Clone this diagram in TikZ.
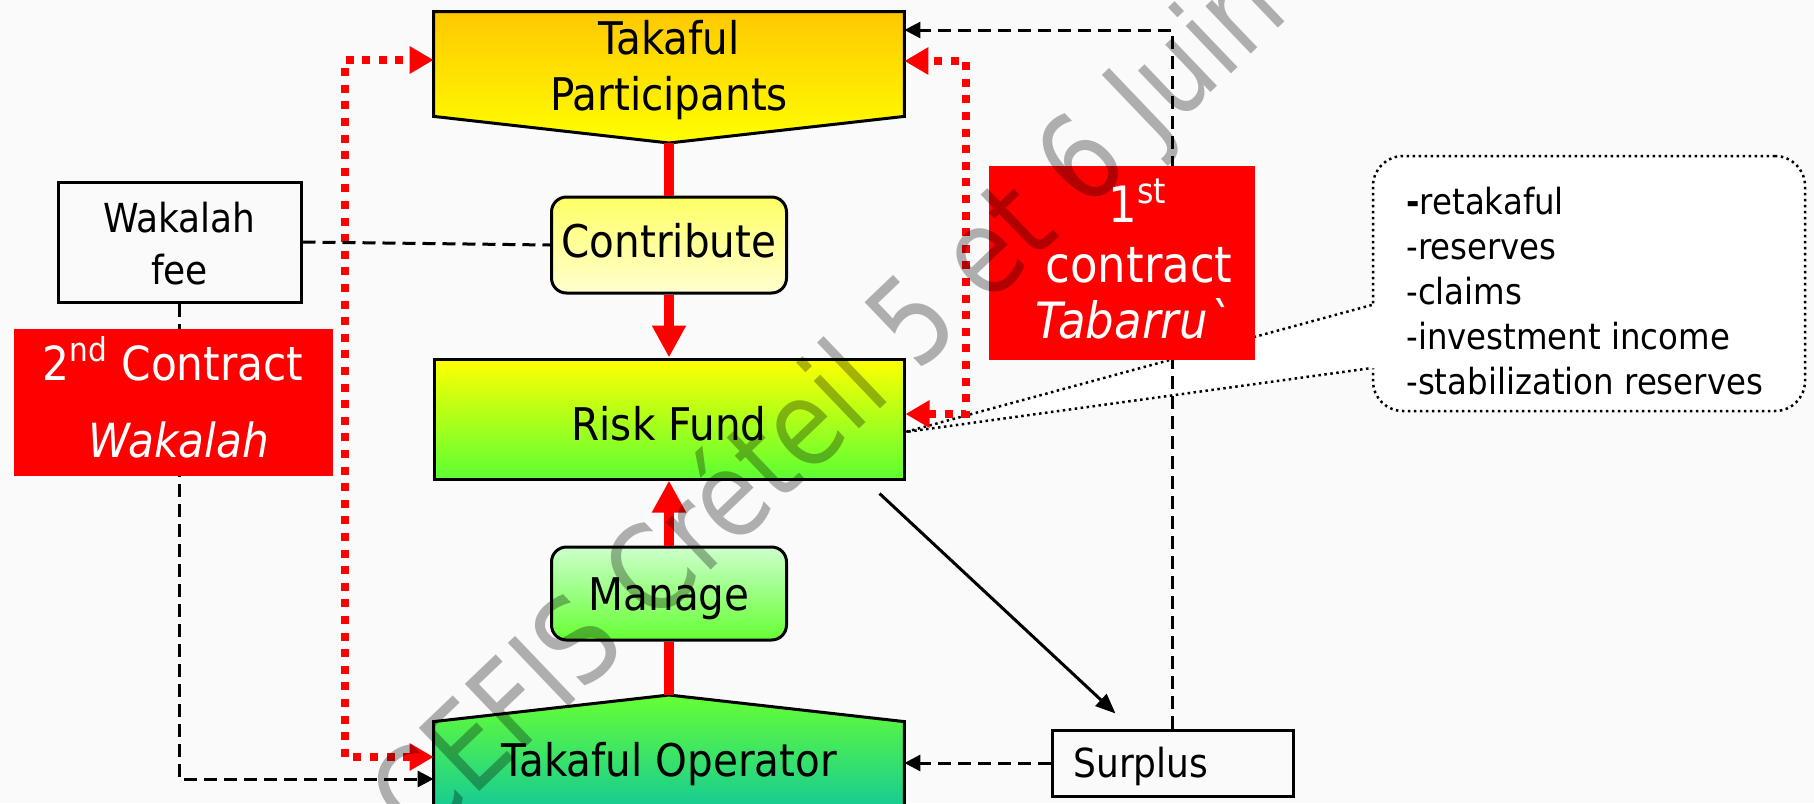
\documentclass[tikz,border=0pt]{standalone}
\usepackage{fontspec}
\setmainfont{DejaVu Sans}[FakeStretch=0.9]
\newfontfamily\wmfont{DejaVu Sans}[FakeStretch=0.85]
\usetikzlibrary{arrows.meta,calc}
\definecolor{bgc}{HTML}{FAFAFA}
\definecolor{tpTop}{HTML}{FFC800}
\definecolor{tpBot}{HTML}{FFFF00}
\definecolor{ctTop}{HTML}{FFFF66}
\definecolor{ctBot}{HTML}{FFFFD0}
\definecolor{rfTop}{HTML}{FFFF00}
\definecolor{rfBot}{HTML}{5CFF33}
\definecolor{mgTop}{HTML}{CCFFCC}
\definecolor{mgBot}{HTML}{66FF33}
\definecolor{toTop}{HTML}{66FF33}
\definecolor{toBot}{HTML}{10C89A}
\definecolor{redc}{HTML}{FF0000}
\newcommand\fsMain{\fontsize{22.5pt}{28pt}\selectfont}
\newcommand\fsFee{\fontsize{20pt}{26pt}\selectfont}
\newcommand\fsCall{\fontsize{18pt}{22.5pt}\selectfont}
\newcommand\fsTwo{\fontsize{23.5pt}{28pt}\selectfont}
\newcommand\fsOne{\fontsize{25pt}{29pt}\selectfont}
\begin{document}
\begin{tikzpicture}[x=0.5pt,y=-0.5pt,
  box/.style={draw=black, line width=1.5pt, inner sep=0pt},
  pill/.style={box, rounded corners=7.5pt},
  redbox/.style={fill=redc, inner sep=0pt},
  redline/.style={draw=redc, line width=5pt},
  redarr/.style={redline, -{Triangle[length=16pt,width=16pt]}},
  reddots/.style={draw=redc, line width=4pt, dash pattern=on 4pt off 4.3pt,
     {Triangle[length=12pt,width=13pt]}-{Triangle[length=12pt,width=13pt]}},
  blkdash/.style={draw=black, line width=1.5pt, dash pattern=on 6.5pt off 3.5pt},
  blkarr/.style={blkdash, -{Triangle[length=8pt,width=8pt]}},
  dotline/.style={draw=black, line width=1.25pt, dash pattern=on 1.25pt off 1.75pt},
  txt/.style={inner sep=0pt},
]
\useasboundingbox (0,0) rectangle (1814,803);
\clip (0,0) rectangle (1814,803);
\fill[bgc] (0,0) rectangle (1814,803);

% Takaful Participants
\node[txt, minimum width=235pt, minimum height=52pt] (tp) at (669,64) {};
\coordinate (tptip) at (669,143);
\shadedraw[top color=tpTop, bottom color=tpBot, draw=black, line width=1.5pt]
  (tp.north west) -- (tp.north east) -- (tp.south east) -- (tptip) -- (tp.south west) -- cycle;
\node[txt, anchor=north, align=center, font=\fsMain] (tptext) at (669,19.8) {Takaful\\Participants};

% Takaful Operator
\node[txt, minimum width=235pt, minimum height=40.5pt] (to) at (669,762.5) {};
\coordinate (totip) at (669,695);
\shadedraw[top color=toTop, bottom color=toBot, draw=black, line width=1.5pt]
  ([yshift=-6pt]to.south west) -- (to.north west) -- (totip) -- (to.north east) -- ([yshift=-6pt]to.south east) -- cycle;

% other boxes
\node[pill, top color=ctTop, bottom color=ctBot, minimum width=117.5pt, minimum height=48pt] (contrib) at (669,245) {};
\node[box, top color=rfTop, bottom color=rfBot, minimum width=235pt, minimum height=60pt] (rf) at (669,419) {};
\node[pill, top color=mgTop, bottom color=mgBot, minimum width=117.5pt, minimum height=46.5pt] (manage) at (669,593.5) {};
\node[box, fill=bgc, minimum width=121.5pt, minimum height=60pt] (fee) at (179.5,242) {};
\node[box, fill=bgc, minimum width=120.5pt, minimum height=33pt] (surplus) at (1172.5,763) {};

% callout
\node[dotline, fill=white, rounded corners=15pt, minimum width=216pt, minimum height=127.5pt, inner sep=0pt] (callout) at (1589,283.5) {};
\coordinate (wtip) at ([yshift=-6.5pt]rf.east);
\coordinate (wa) at ([yshift=-10.75pt]callout.west);
\coordinate (wb) at ([yshift=-42.25pt]callout.west);
\fill[white] ([xshift=2pt]wa) -- (wtip) -- ([xshift=2pt]wb) -- cycle;
\draw[dotline] (wa) -- (wtip) -- (wb);

% red flow
\draw[redline] (tptip) -- (contrib.north);
\draw[redarr] (contrib.south) -- (rf.north);
\draw[redarr] (manage.north) -- (rf.south);
\draw[redline] (totip) -- (manage.south);

% red dotted loops
\coordinate (lx) at (345,0);
\coordinate (rx) at (966,0);
\coordinate (tpL) at ([yshift=2pt]tp.west);
\coordinate (toL) at ([yshift=2.75pt]to.west);
\coordinate (tpR) at ([yshift=1.5pt]tp.east);
\coordinate (rfR) at ([yshift=2.5pt]rf.east);
\draw[reddots] (toL) -- (toL -| lx) -- (tpL -| lx) -- (tpL);
\draw[reddots] (rfR) -- (rfR -| rx) -- (tpR -| rx) -- (tpR);

% black dashed
\draw[blkdash] (fee.east) -- (contrib.west);
\coordinate (tpR2) at ([yshift=17pt]tp.east);
\draw[blkarr] (surplus.north) -- (surplus.north |- tpR2) -- (tpR2);
\coordinate (toL2) at ([yshift=-8.25pt]to.west);
\draw[blkarr] (fee.south) -- (fee.south |- toL2) -- (toL2);
\draw[blkarr] (surplus.west) -- (surplus.west -| to.east);
\draw[line width=1.5pt, -{Triangle[length=10pt,width=8pt]}]
  ([xshift=-13pt,yshift=-6.5pt]rf.south east) -- ([xshift=32.5pt,yshift=7.5pt]surplus.north west);

% texts
\node[txt, anchor=base, font=\fsMain] (ctt) at (669,257) {Contribute};
\node[txt, anchor=base, font=\fsMain] (rft) at (669,440) {Risk Fund};
\node[txt, anchor=base, font=\fsMain] (mgt) at (669,610) {Manage};
\node[txt, anchor=base, font=\fsMain] (tot) at (669,776) {Takaful Operator};
\node[txt, anchor=north, align=center, font=\fsFee] (feet) at (179.5,201.6) {Wakalah\\fee};
\node[txt, anchor=base west, font=\fsFee] (surt) at (1073,777) {Surplus};
\node[txt, anchor=north west, align=left, font=\fsCall] (callt) at (1406,186.6)
  {\textbf{-}retakaful\\-reserves\\-claims\\-investment income\\-stabilization reserves};

% red contract boxes
\node[redbox, minimum width=159.5pt, minimum height=73.5pt] (c2) at (173.5,402.5) {};
\node[redbox, minimum width=133pt, minimum height=97pt] (c1) at (1122,263) {};
\node[txt, anchor=base, font=\fsTwo, text=white] (c2a) at (173,380) {2\textsuperscript{nd} Contract};
\node[txt, anchor=base, font=\fsTwo\itshape, text=white] (c2b) at (179,457) {Wakalah};
\node[txt, anchor=base, font=\fsOne, text=white] (c1a) at (1138,222) {1\textsuperscript{st}};
\node[txt, anchor=base, font=\fsOne, text=white] (c1b) at (1139,282) {contract};
\node[txt, anchor=base, font=\fsOne\itshape, text=white] (c1c) at (1134,338) {Tabarru\textasciigrave};

% watermark
\node[txt, anchor=base, rotate=43.7, font=\wmfont\fontsize{60pt}{66pt}\selectfont,
  text=black, text opacity=0.3] (wm) at (856,432) {CEFIS Créteil 5 et 6 Juin};
\end{tikzpicture}
\end{document}
